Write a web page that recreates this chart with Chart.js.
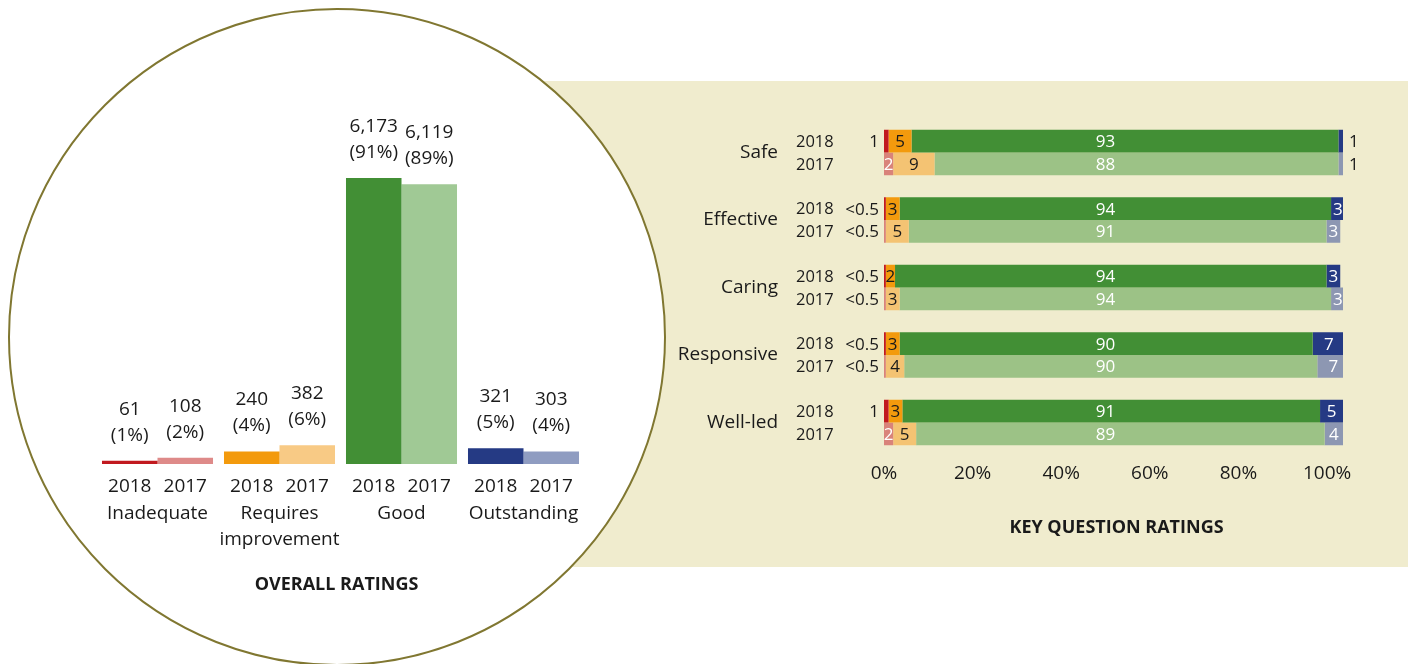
<!DOCTYPE html>
<html>
<head>
<meta charset="utf-8">
<title>Overall and key question ratings</title>
<script src="https://cdn.jsdelivr.net/npm/chart.js@4.4.1/dist/chart.umd.min.js"></script>
<style>
  html, body { margin: 0; padding: 0; background: #fff; }
  #page { position: relative; width: 1413px; height: 664px; overflow: hidden; }
  #panel { position: absolute; left: 540px; top: 81px; width: 868px; height: 486px; background: #f0ecce; }
  #circle { position: absolute; left: 8px; top: 8px; width: 658px; height: 658px; box-sizing: border-box;
            border: 2px solid #807731; border-radius: 50%; background: #fff; }
  #overall { position: absolute; left: 0; top: 0; }
  #keyq { position: absolute; left: 660px; top: 81px; }
</style>
</head>
<body>
<div id="page">
  <div id="panel"></div>
  <div id="circle"></div>
  <canvas id="overall" width="660" height="664"></canvas>
  <canvas id="keyq" width="753" height="486"></canvas>
</div>
<script>
// overall ratings (left, inside the circle)
const ratings = ['Inadequate', ['Requires', 'improvement'], 'Good', 'Outstanding'];
const counts2018 = [61, 240, 6173, 321];
const counts2017 = [108, 382, 6119, 303];
const pct2018 = [1, 4, 91, 5];
const pct2017 = [2, 6, 89, 4];

// key question ratings (right panel), percentages
const questions = ['Safe', 'Effective', 'Caring', 'Responsive', 'Well-led'];
const inadequate2018 = [1, 0.4, 0.4, 0.4, 1];
const requires2018 = [5, 3, 2, 3, 3];
const good2018 = [93, 94, 94, 90, 91];
const outstanding2018 = [1, 3, 3, 7, 5];
const inadequate2017 = [2, 0.4, 0.4, 0.4, 2];
const requires2017 = [9, 5, 3, 4, 5];
const good2017 = [88, 91, 94, 90, 89];
const outstanding2017 = [1, 3, 3, 7, 4];
const percentTicks = [0, 20, 40, 60, 80, 100];

const FONT = '"Open Sans", sans-serif';
const TEXT = '#1a1a1a';
const colors2018 = ['#c1191f', '#f39a0d', '#428f35', '#253a84'];
const colors2017 = ['#de8a89', '#f8ca85', '#a0c995', '#8f9cc1'];
const keyColors2017 = ['#d9837a', '#f4c373', '#9cc286', '#8d97b2'];
const insideText = ['#fff', TEXT, '#fff', '#fff'];

Chart.defaults.font.family = FONT;
Chart.defaults.color = TEXT;

const fmt = (n) => String(n).replace(/\B(?=(\d{3})+(?!\d))/g, ',');

// labels above / below the overall bars, plus the caption
const overallLabels = {
  id: 'overallLabels',
  afterDatasetsDraw(chart) {
    const { ctx, chartArea } = chart;
    ctx.save();
    ctx.fillStyle = TEXT;
    ctx.textAlign = 'center';
    ctx.font = '19px ' + FONT;
    chart.data.datasets.forEach((ds, d) => {
      chart.getDatasetMeta(d).data.forEach((bar, i) => {
        ctx.textBaseline = 'alphabetic';
        ctx.fillText(fmt(ds.counts[i]), bar.x, bar.y - 46);
        ctx.fillText('(' + ds.data[i] + '%)', bar.x, bar.y - 20);
        ctx.textBaseline = 'middle';
        ctx.fillText(ds.label, bar.x, chartArea.bottom + 23);
      });
    });
    ctx.font = 'bold 18px ' + FONT;
    ctx.textBaseline = 'middle';
    ctx.fillText('OVERALL RATINGS', (chartArea.left + chartArea.right) / 2 - 4, chartArea.bottom + 121);
    ctx.restore();
  }
};

new Chart(document.getElementById('overall'), {
  type: 'bar',
  data: {
    labels: ratings,
    datasets: [
      { label: '2018', data: pct2018, counts: counts2018, backgroundColor: colors2018 },
      { label: '2017', data: pct2017, counts: counts2017, backgroundColor: colors2017 }
    ]
  },
  options: {
    responsive: false,
    animation: false,
    devicePixelRatio: 1,
    layout: { padding: { left: 96.5, right: 75.5, top: 149.7, bottom: 110 } },
    datasets: { bar: { categoryPercentage: 0.91, barPercentage: 1.0, borderWidth: 0 } },
    plugins: { legend: { display: false }, tooltip: { enabled: false } },
    scales: {
      x: {
        grid: { display: false, drawTicks: false },
        border: { display: false },
        ticks: { padding: 36, color: TEXT, font: { size: 19, lineHeight: 1.4 }, maxRotation: 0, autoSkip: false },
        afterFit: (s) => { s.height = 90; }
      },
      y: { display: false, min: 0, max: 100 }
    }
  },
  plugins: [overallLabels]
});

// segment values, year labels and caption for the key question bars
const keyLabels = {
  id: 'keyLabels',
  afterDatasetsDraw(chart) {
    const { ctx, chartArea, scales } = chart;
    const mid = (scales.xt.getPixelForValue(0) + scales.xt.getPixelForValue(100)) / 2;
    ctx.save();
    ctx.textBaseline = 'middle';
    chart.data.datasets.forEach((ds, d) => {
      const k = ds.segment;
      chart.getDatasetMeta(d).data.forEach((bar, i) => {
        const v = ds.data[i];
        const text = v < 0.5 ? '<0.5' : String(v);
        const left = Math.min(bar.base, bar.x);
        const right = Math.max(bar.base, bar.x);
        let x;
        ctx.font = '17px ' + FONT;
        if (v >= 2) {
          ctx.textAlign = 'center';
          ctx.fillStyle = insideText[k];
          x = k === 2 ? mid : (left + right) / 2;
        } else if (k === 3) {
          ctx.textAlign = 'left';
          ctx.fillStyle = TEXT;
          x = right + 6;
        } else {
          ctx.textAlign = 'right';
          ctx.fillStyle = TEXT;
          x = left - 5;
        }
        ctx.fillText(text, x, bar.y + 1);
        if (k === 0) {
          ctx.font = '16.5px ' + FONT;
          ctx.textAlign = 'left';
          ctx.fillStyle = TEXT;
          ctx.fillText(ds.stack, chartArea.left - 88, bar.y + 1);
        }
      });
    });
    ctx.font = 'bold 18px ' + FONT;
    ctx.textAlign = 'center';
    ctx.fillStyle = TEXT;
    ctx.fillText('KEY QUESTION RATINGS', (chartArea.left + chartArea.right) / 2 + 3, chartArea.bottom + 71.5);
    ctx.restore();
  }
};

const keySeries = [
  [inadequate2018, requires2018, good2018, outstanding2018],
  [inadequate2017, requires2017, good2017, outstanding2017]
];
const keyDatasets = [];
['2018', '2017'].forEach((year, y) => {
  keySeries[y].forEach((values, k) => {
    keyDatasets.push({
      label: year,
      stack: year,
      segment: k,
      data: values,
      backgroundColor: y === 0 ? colors2018[k] : keyColors2017[k]
    });
  });
});

new Chart(document.getElementById('keyq'), {
  type: 'bar',
  data: { labels: questions, datasets: keyDatasets },
  options: {
    indexAxis: 'y',
    responsive: false,
    animation: false,
    devicePixelRatio: 1,
    layout: { padding: { left: 0, right: 70, top: 37.75, bottom: 70.75 } },
    datasets: { bar: { categoryPercentage: 0.671, barPercentage: 1.0, borderWidth: 0 } },
    plugins: { legend: { display: false }, tooltip: { enabled: false } },
    scales: {
      x: { display: false, stacked: true, min: 0, max: 100 },
      xt: {
        type: 'linear',
        position: 'bottom',
        min: 0,
        max: 103.6,
        afterBuildTicks: (s) => { s.ticks = percentTicks.map((v) => ({ value: v })); },
        ticks: { includeBounds: false, padding: 6, color: TEXT, font: { size: 19 }, callback: (v) => v + '%' },
        grid: { display: false, drawTicks: false },
        border: { display: false },
        afterFit: (s) => { s.height = 40; }
      },
      y: {
        grid: { display: false, drawTicks: false },
        border: { display: false },
        ticks: { padding: 106, color: TEXT, font: { size: 19 }, autoSkip: false },
        // labels sit well left of the bars; keep that gap out of the vertical layout
        afterFit: (s) => { s.width = 224; s.paddingTop = 0; s.paddingBottom = 0; }
      }
    }
  },
  plugins: [keyLabels]
});
</script>
</body>
</html>
